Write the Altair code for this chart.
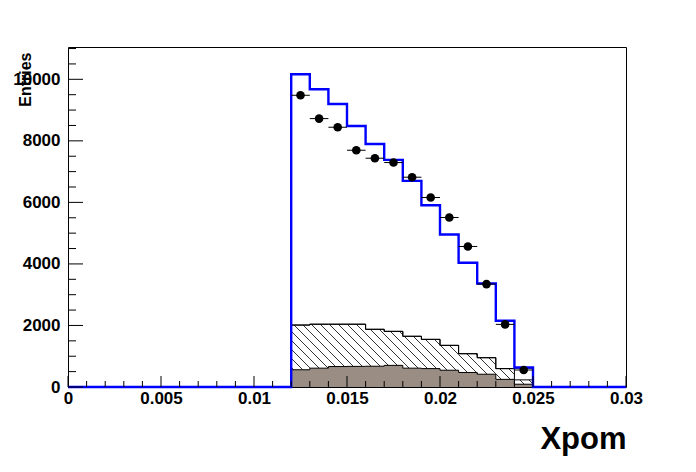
import altair as alt
import pandas as pd

# ---- data ----
bin_edges = [0.012, 0.013, 0.014, 0.015, 0.016, 0.017, 0.018, 0.019,
             0.020, 0.021, 0.022, 0.023, 0.024, 0.025]
blue_mc = [10162, 9675, 9198, 8484, 7899, 7380, 6698, 5909, 4957, 4036, 3366, 2154, 635]
data_pts = [9481, 8723, 8442, 7695, 7435, 7295, 6818, 6158, 5509, 4567, 3344, 2035, 552]
stack_total = [2013, 2040, 2040, 2040, 1875, 1808, 1648, 1548, 1353, 1082, 952, 600, 612]
hatched_top = [2013, 2040, 2040, 2040, 1875, 1808, 1648, 1548, 1353, 1082, 952, 595, 232]
brown_top = [560, 612, 665, 670, 675, 703, 612, 598, 545, 472, 415, 248, 90]

x_major = [0, 0.005, 0.01, 0.015, 0.02, 0.025, 0.03]
y_major = [0, 2000, 4000, 6000, 8000, 10000]
x_range = [0, 0.03]
YMAX = 11050

W, H = 558, 340
FONT = "Liberation Sans"

xs = alt.Scale(domain=x_range, nice=False, zero=False)
ys = alt.Scale(domain=[0, YMAX], nice=False)

lo = bin_edges[:-1]
hi = bin_edges[1:]


def step_outline(vals, start=None, end=None):
    xs_, ys_ = [], []
    xs_.append(lo[0] if start is None else start); ys_.append(0)
    for a, v in zip(lo, vals):
        xs_.append(a); ys_.append(v)
    xs_.append(hi[-1]); ys_.append(0)
    if end is not None:
        xs_.append(end); ys_.append(0)
    return pd.DataFrame({"x": xs_, "y": ys_, "o": list(range(len(xs_)))})


def step_area(vals):
    xs_ = list(lo) + [hi[-1]]
    ys_ = list(vals) + [vals[-1]]
    return pd.DataFrame({"x": xs_, "y": ys_, "z": [0] * len(xs_)})


# hatch segments (pattern "\\\") between brown top and hatched top, per bin
sx = W / (x_range[1] - x_range[0])
sy = H / YMAX
step = 9
segs = []
c = -H - step
while c < W + step:
    for i in range(len(lo)):
        X0, X1 = lo[i] * sx, hi[i] * sx
        top = (YMAX - hatched_top[i]) * sy
        bot = (YMAX - brown_top[i]) * sy
        a = max(X0, top + c)
        b = min(X1, bot + c)
        if b > a:
            segs.append({"x": a / sx, "y": YMAX - (a - c) / sy,
                         "x2": b / sx, "y2": YMAX - (b - c) / sy})
    c += step
hatch_df = pd.DataFrame(segs)

x_axis = alt.Axis(
    values=x_major, format="~g", ticks=False, tickSize=0, domain=False, grid=False,
    labelFont=FONT, labelFontSize=17, labelFontWeight="bold", labelColor="black",
    labelPadding=3, labelFlush=False, labelOverlap=False,
    title="Xpom", titleFont=FONT, titleFontSize=31, titleFontWeight="bold",
    titleColor="black", titleAlign="right", titleBaseline="alphabetic",
    titleX=W, titleY=61)
y_axis = alt.Axis(
    values=y_major, format="d", ticks=False, tickSize=0, domain=False, grid=False,
    labelFont=FONT, labelFontSize=17, labelFontWeight="bold", labelColor="black",
    labelPadding=8, labelFlush=False, labelOverlap=False,
    title="Entries", titleFont=FONT, titleFontSize=16, titleFontWeight="bold",
    titleColor="black", titleAngle=270, titleAlign="right", titleBaseline="middle",
    titleX=-43, titleY=5)

blue_df = step_outline(blue_mc, start=x_range[0], end=x_range[1])

axes_layer = alt.Chart(blue_df).mark_line(opacity=0).encode(
    x=alt.X("x:Q", scale=xs, axis=x_axis),
    y=alt.Y("y:Q", scale=ys, axis=y_axis),
)

blue = alt.Chart(blue_df).mark_line(interpolate="step-after", color="#0000ff",
                                     strokeWidth=2.4).encode(
    x=alt.X("x:Q", scale=xs, axis=None), y=alt.Y("y:Q", scale=ys, axis=None),
    order="o:Q")

hatch = alt.Chart(hatch_df).mark_rule(color="black", strokeWidth=0.8).encode(
    x=alt.X("x:Q", scale=xs, axis=None), y=alt.Y("y:Q", scale=ys, axis=None),
    x2="x2:Q", y2="y2:Q")

brown = alt.Chart(step_area(brown_top)).mark_area(
    interpolate="step-after", fill="#9a8e84", fillOpacity=1, stroke=None).encode(
    x=alt.X("x:Q", scale=xs, axis=None), y=alt.Y("y:Q", scale=ys, axis=None),
    y2=alt.Y2("z:Q"))


def outline(vals):
    return alt.Chart(step_outline(vals)).mark_line(
        interpolate="step-after", color="black", strokeWidth=1).encode(
        x=alt.X("x:Q", scale=xs, axis=None), y=alt.Y("y:Q", scale=ys, axis=None),
        order="o:Q")


pts_df = pd.DataFrame({
    "xc": [a + (b - a) / 2 for a, b in zip(lo, hi)],
    "lo": lo, "hi": hi, "v": data_pts})
errs = alt.Chart(pts_df).mark_rule(color="black", strokeWidth=1).encode(
    x=alt.X("lo:Q", scale=xs, axis=None), x2="hi:Q",
    y=alt.Y("v:Q", scale=ys, axis=None))
pts = alt.Chart(pts_df).mark_circle(color="black", opacity=1, size=75).encode(
    x=alt.X("xc:Q", scale=xs, axis=None), y=alt.Y("v:Q", scale=ys, axis=None))

# inward ticks (ROOT style)
x_minor = [i / 1000 for i in range(0, 31) if i % 5 != 0]
y_minor = [i * 500 for i in range(0, 23) if i % 4 != 0]
xt_major = alt.Chart(pd.DataFrame({"v": x_major})).mark_rule(color="black").encode(
    x=alt.X("v:Q", scale=xs, axis=None), y=alt.value(H), y2=alt.value(H - 11))
xt_minor = alt.Chart(pd.DataFrame({"v": x_minor})).mark_rule(color="black").encode(
    x=alt.X("v:Q", scale=xs, axis=None), y=alt.value(H), y2=alt.value(H - 6))
yt_major = alt.Chart(pd.DataFrame({"v": y_major})).mark_rule(color="black").encode(
    y=alt.Y("v:Q", scale=ys, axis=None), x=alt.value(0), x2=alt.value(15))
yt_minor = alt.Chart(pd.DataFrame({"v": y_minor})).mark_rule(color="black").encode(
    y=alt.Y("v:Q", scale=ys, axis=None), x=alt.value(0), x2=alt.value(8))

chart = alt.layer(
    axes_layer,
    hatch, brown,
    outline(stack_total), outline(hatched_top), outline(brown_top),
    blue, errs, pts,
    xt_major, xt_minor, yt_major, yt_minor,
).resolve_axis(x="independent", y="independent").properties(
    width=W, height=H,
    autosize=alt.AutoSizeParams(type="none"),
    padding={"left": 60, "top": 39, "right": 55, "bottom": 70},
    background="white",
).configure_view(stroke="black", strokeWidth=1)

chart.save("out.html", embed_options={"renderer": "svg", "actions": False})
